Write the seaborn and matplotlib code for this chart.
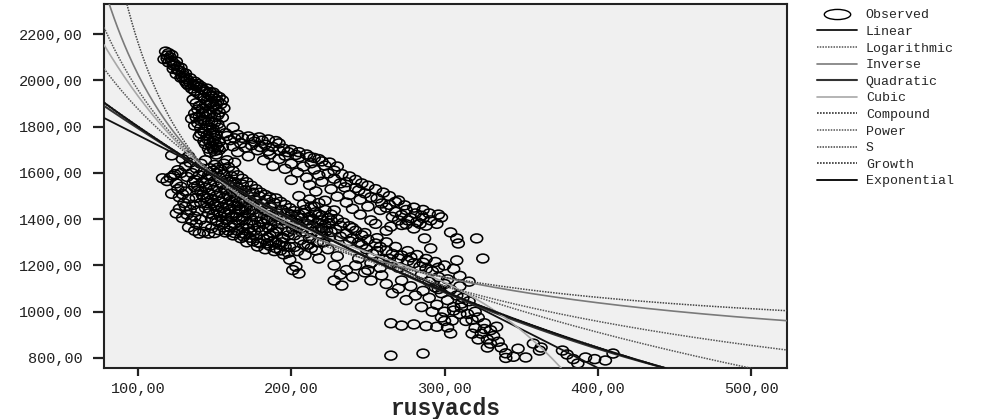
import numpy as np
import pandas as pd
import seaborn as sns
import matplotlib.pyplot as plt
from matplotlib.lines import Line2D
from matplotlib.path import Path
from matplotlib.transforms import Affine2D
from matplotlib.ticker import FuncFormatter

# observed cases (rusyacds, y), grouped by region
steep_branch = [
    (118, 2125), (120, 2118), (119, 2108), (121, 2100), (117, 2092), (122, 2085), (120, 2078),
    (124, 2070), (126, 2060), (123, 2050), (127, 2042), (129, 2035), (125, 2028), (130, 2020),
    (128, 2012), (132, 2005), (131, 1995), (134, 1990), (136, 1985), (133, 1978), (138, 1975),
    (140, 1970), (135, 1965), (142, 1962), (137, 1955), (144, 1952), (139, 1945), (146, 1942),
    (141, 1935), (148, 1932), (143, 1925), (150, 1922), (136, 1918), (145, 1912), (152, 1910),
    (138, 1902), (147, 1900), (154, 1898), (140, 1890), (149, 1888), (142, 1878), (151, 1875),
    (156, 1880), (144, 1866), (153, 1862), (137, 1858), (146, 1852), (140, 1845), (150, 1842),
    (135, 1835), (143, 1830), (148, 1822), (139, 1815), (152, 1812), (145, 1805), (162, 1797),
    (141, 1795), (149, 1790), (143, 1778), (147, 1770), (151, 1765), (140, 1758), (145, 1748),
    (149, 1740), (153, 1735), (144, 1725), (148, 1718), (152, 1710), (146, 1705), (150, 1695),
    (119, 2095), (122, 2110), (125, 2082), (123, 2065), (128, 2055), (126, 2045), (131, 2030),
    (129, 2015), (134, 2010), (132, 1985), (137, 1995), (139, 1985), (141, 1975), (143, 1958),
    (145, 1965), (147, 1950), (149, 1948), (151, 1935), (153, 1928), (155, 1915), (148, 1905),
    (151, 1895), (144, 1895), (139, 1875), (142, 1860), (147, 1860), (152, 1850), (155, 1840),
    (138, 1840), (144, 1842), (141, 1825), (146, 1822), (150, 1818), (137, 1805), (147, 1795),
    (153, 1795), (144, 1790), (141, 1770), (149, 1775), (145, 1762), (150, 1750), (143, 1738),
    (147, 1730), (151, 1722), (155, 1712), (149, 1705), (153, 1700), (147, 1690), (151, 1680),
]
upper_branch = [
    (157, 1772), (165, 1765), (172, 1758), (168, 1752), (179, 1754), (185, 1745), (192, 1728),
    (160, 1742), (176, 1735), (183, 1722), (162, 1715), (170, 1710), (188, 1712), (195, 1705),
    (200, 1700), (178, 1698), (165, 1690), (205, 1690), (210, 1680), (186, 1680), (196, 1675),
    (172, 1672), (205, 1668), (215, 1665), (192, 1660), (182, 1655), (213, 1642), (220, 1650),
    (200, 1640), (208, 1628), (222, 1632), (188, 1630), (196, 1618), (215, 1615), (224, 1598),
    (204, 1602), (218, 1590), (210, 1580), (228, 1575), (200, 1570), (220, 1562), (232, 1555),
    (212, 1548), (235, 1538), (226, 1530), (242, 1535), (216, 1520), (248, 1512), (238, 1505),
    (230, 1498), (252, 1495), (245, 1485), (259, 1468), (222, 1480), (236, 1472), (270, 1481),
    (264, 1462), (250, 1455), (240, 1445), (258, 1440), (228, 1438), (268, 1432), (275, 1440),
    (281, 1425), (272, 1418), (266, 1410), (278, 1405), (285, 1415), (298, 1408), (270, 1395),
    (291, 1395), (282, 1388), (275, 1378), (288, 1372), (265, 1368), (280, 1360), (295, 1380),
    (252, 1395), (245, 1420), (304, 1343), (287, 1317), (308, 1317), (309, 1295), (321, 1317),
    (291, 1274), (308, 1222), (325, 1230), (255, 1380), (262, 1350), (205, 1500), (212, 1485),
    (218, 1470), (208, 1465), (215, 1455),
    (158, 1760), (163, 1750), (175, 1748), (181, 1740), (190, 1738), (167, 1728), (174, 1720),
    (180, 1712), (192, 1698), (198, 1690), (185, 1695), (203, 1678), (212, 1670), (218, 1660),
    (225, 1645), (230, 1628), (228, 1610), (233, 1595), (238, 1585), (242, 1570), (236, 1560),
    (246, 1555), (250, 1545), (255, 1530), (244, 1525), (260, 1515), (264, 1500), (256, 1490),
    (268, 1475), (274, 1460), (262, 1450), (280, 1450), (286, 1440), (290, 1425), (296, 1420),
    (286, 1405), (276, 1395), (272, 1375), (284, 1380),
]
lower_cluster = [
    (116, 1577), (121, 1580), (124, 1595), (122, 1676), (129, 1660), (133, 1672), (125, 1555),
    (128, 1540), (131, 1520), (122, 1510), (127, 1495), (130, 1470), (125, 1425), (127, 1445),
    (132, 1420), (129, 1405), (135, 1395), (138, 1380), (133, 1365), (140, 1338), (137, 1350),
    (143, 1345), (146, 1338), (150, 1340), (135, 1600), (138, 1620), (141, 1640), (144, 1655),
    (137, 1570), (140, 1590), (143, 1605), (147, 1620), (150, 1635), (139, 1545), (142, 1560),
    (145, 1575), (148, 1590), (151, 1600), (154, 1615), (141, 1520), (144, 1535), (147, 1550),
    (150, 1565), (153, 1580), (156, 1595), (143, 1495), (146, 1510), (149, 1525), (152, 1540),
    (155, 1555), (158, 1570), (161, 1585), (145, 1470), (148, 1485), (151, 1500), (154, 1515),
    (157, 1530), (160, 1545), (163, 1560), (147, 1445), (150, 1460), (153, 1475), (156, 1490),
    (159, 1505), (162, 1520), (165, 1535), (168, 1550), (149, 1420), (152, 1435), (155, 1450),
    (158, 1465), (161, 1480), (164, 1495), (167, 1510), (170, 1525), (151, 1395), (154, 1410),
    (157, 1425), (160, 1440), (163, 1455), (166, 1470), (169, 1485), (172, 1500), (175, 1515),
    (155, 1380), (158, 1395), (161, 1410), (164, 1425), (167, 1440), (170, 1455), (173, 1470),
    (176, 1485), (179, 1500), (160, 1365), (163, 1380), (166, 1395), (169, 1410), (172, 1425),
    (175, 1440), (178, 1455), (181, 1470), (184, 1485), (165, 1350), (168, 1365), (171, 1380),
    (174, 1395), (177, 1410), (180, 1425), (183, 1440), (186, 1455), (189, 1470), (170, 1335),
    (173, 1320), (176, 1350), (179, 1365), (182, 1380), (185, 1395), (188, 1410), (191, 1425),
    (194, 1440), (175, 1305), (180, 1295), (185, 1320), (188, 1340), (191, 1360), (194, 1380),
    (197, 1400), (200, 1420), (186, 1285), (190, 1275), (194, 1300), (198, 1330), (201, 1355),
    (204, 1380), (207, 1405), (193, 1265), (198, 1255), (202, 1280), (206, 1310), (210, 1340),
    (214, 1370), (199, 1225), (203, 1195), (201, 1180), (205, 1165), (209, 1245), (213, 1275),
    (217, 1300), (220, 1330),
    (119, 1565), (123, 1588), (126, 1612), (131, 1628), (134, 1645), (128, 1600), (132, 1583),
    (136, 1558), (126, 1530), (129, 1508), (133, 1488), (136, 1462), (139, 1437), (134, 1440),
    (131, 1455), (137, 1412), (141, 1398), (144, 1372), (148, 1361), (153, 1352), (157, 1343),
    (162, 1330), (167, 1318), (171, 1300), (178, 1282), (183, 1270), (189, 1262), (195, 1248),
    (138, 1492), (141, 1470), (144, 1448), (146, 1425), (148, 1402), (152, 1388), (156, 1365),
    (159, 1350), (163, 1340), (168, 1340), (146, 1590), (149, 1610), (152, 1622), (156, 1640),
    (159, 1625), (162, 1608), (165, 1590), (168, 1575), (171, 1560), (174, 1545), (177, 1530),
    (180, 1515), (183, 1505), (186, 1495), (190, 1490), (193, 1475), (196, 1462), (199, 1448),
    (202, 1435), (205, 1420), (208, 1425), (211, 1395), (214, 1400), (217, 1385), (220, 1362),
    (223, 1350), (212, 1318), (208, 1290), (204, 1262), (199, 1280), (195, 1318), (190, 1345),
    (187, 1372), (184, 1402), (180, 1390), (176, 1375), (172, 1360), (168, 1395), (164, 1410),
    (159, 1420), (156, 1432), (152, 1455), (149, 1470), (145, 1490), (142, 1505), (139, 1525),
    (137, 1540), (160, 1498), (165, 1515), (170, 1480), (175, 1460), (180, 1448), (185, 1430),
    (190, 1412), (196, 1395), (203, 1365), (207, 1345), (211, 1290), (216, 1265), (221, 1300),
    (225, 1325), (158, 1655), (163, 1645), (160, 1560), (165, 1460), (170, 1440), (175, 1420),
    (158, 1530), (162, 1475), (166, 1440),
    (178, 1300), (182, 1315), (186, 1330), (190, 1300), (194, 1320), (198, 1345), (202, 1330),
    (206, 1360), (210, 1380), (214, 1345), (218, 1355), (222, 1375), (200, 1395), (204, 1410),
    (197, 1428), (193, 1410), (189, 1390), (185, 1362), (181, 1348), (177, 1330), (173, 1345),
    (169, 1325), (212, 1410), (216, 1430), (209, 1440), (213, 1455), (220, 1415), (224, 1405),
    (196, 1282), (192, 1290), (188, 1305), (184, 1295),
]
lower_branch = [
    (222, 1440), (226, 1420), (230, 1400), (225, 1380), (234, 1385), (238, 1370), (229, 1355),
    (242, 1350), (236, 1338), (246, 1330), (240, 1318), (250, 1312), (244, 1300), (255, 1295),
    (258, 1280), (249, 1270), (262, 1265), (253, 1250), (266, 1250), (272, 1243), (270, 1230),
    (260, 1225), (276, 1220), (280, 1210), (265, 1205), (284, 1195), (270, 1190), (288, 1185),
    (230, 1240), (224, 1270), (218, 1230), (228, 1200), (236, 1180), (232, 1160), (240, 1150),
    (228, 1135), (233, 1113), (248, 1170), (259, 1157), (252, 1135), (262, 1120), (270, 1100),
    (281, 1070), (275, 1050), (266, 1080), (285, 1160), (292, 1175), (296, 1150), (290, 1130),
    (300, 1120), (294, 1105), (304, 1095), (286, 1090), (298, 1080), (308, 1070), (290, 1060),
    (302, 1050), (295, 1030), (306, 1020), (311, 1035), (300, 1000), (310, 990), (298, 975),
    (305, 962), (265, 950), (272, 940), (280, 945), (288, 938), (295, 935), (302, 932),
    (304, 906), (311, 1018), (315, 990), (318, 965), (322, 975), (326, 950), (320, 930),
    (330, 920), (324, 905), (332, 895), (328, 880), (335, 870), (330, 862), (337, 845),
    (328, 845), (340, 820), (348, 840), (345, 805), (265, 810), (286, 819), (252, 1210),
    (244, 1230),
    (226, 1395), (232, 1372), (240, 1362), (248, 1340), (256, 1318), (262, 1300), (268, 1280),
    (276, 1262), (282, 1245), (288, 1228), (294, 1215), (300, 1200), (306, 1185), (296, 1190),
    (286, 1212), (278, 1235), (264, 1228), (256, 1262), (246, 1288), (238, 1305), (232, 1325),
    (226, 1345), (220, 1395), (218, 1420), (296, 1098), (302, 1140), (310, 1110), (312, 1060),
    (316, 1045), (306, 1005), (314, 960), (320, 1000), (326, 925), (334, 935), (318, 905),
    (322, 880), (300, 960), (292, 1000), (285, 1020), (278, 1110), (272, 1135), (258, 1190),
    (250, 1180), (242, 1200), (310, 1155), (316, 1130),
]
tail = [
    (353, 802), (358, 862), (363, 845), (362, 832), (377, 832), (380, 815), (384, 795),
    (387, 776), (392, 802), (398, 795), (405, 789), (410, 819), (340, 800),
]

# curve estimation coefficients, estimated from the drawn fit lines
linear = [2099.0, -3.355]                              # b0 + b1*x
logarithmic = [5084.7, -696.6]                         # b0 + b1*ln(x)
inverse = [709.5, 131665.0]                            # b0 + b1/x
quadratic = [2259.5, -5.034, 0.003712]                 # b0 + b1*x + b2*x^2
cubic = [3372.25, -20.847, 0.074516, -9.992e-5]        # b0 + b1*x + b2*x^2 + b3*x^3
compound = [2317.0, 0.997481]                          # b0 * b1^x
power = [21060.0, -0.5157]                             # b0 * x^b1
s_model = [6.7308, 94.88]                              # exp(b0 + b1/x)
growth = [7.748, -0.002522]                            # exp(b0 + b1*x)
exponential = [2317.0, -0.002522]                      # b0 * exp(b1*x)

df_obs = pd.DataFrame(steep_branch + upper_branch + lower_cluster + lower_branch + tail,
                      columns=['rusyacds', 'y'])

xs = np.linspace(77.8, 523.5, 400)
curves = {
    'Linear': linear[0] + linear[1] * xs,
    'Logarithmic': logarithmic[0] + logarithmic[1] * np.log(xs),
    'Inverse': inverse[0] + inverse[1] / xs,
    'Quadratic': quadratic[0] + quadratic[1] * xs + quadratic[2] * xs ** 2,
    'Cubic': cubic[0] + cubic[1] * xs + cubic[2] * xs ** 2 + cubic[3] * xs ** 3,
    'Compound': compound[0] * compound[1] ** xs,
    'Power': power[0] * xs ** power[1],
    'S': np.exp(s_model[0] + s_model[1] / xs),
    'Growth': np.exp(growth[0] + growth[1] * xs),
    'Exponential': exponential[0] * np.exp(exponential[1] * xs),
}
styles = {
    'Linear': dict(color='#111111', lw=1.3, ls='-'),
    'Logarithmic': dict(color='#555555', lw=1.1, ls=(0, (1, 0.8))),
    'Inverse': dict(color='#7a7a7a', lw=1.2, ls='-'),
    'Quadratic': dict(color='#333333', lw=1.5, ls='-'),
    'Cubic': dict(color='#a8a8a8', lw=1.2, ls='-'),
    'Compound': dict(color='#333333', lw=1.2, ls=(0, (1, 0.8))),
    'Power': dict(color='#555555', lw=1.1, ls=(0, (1, 0.8))),
    'S': dict(color='#444444', lw=1.1, ls=(0, (1, 0.8))),
    'Growth': dict(color='#333333', lw=1.2, ls=(0, (1, 0.8))),
    'Exponential': dict(color='#111111', lw=1.4, ls='-'),
}

sns.set_theme(style='white')
plt.rcParams['font.family'] = ['Liberation Mono', 'DejaVu Sans Mono']

# the original is horizontally stretched, so circles look like ellipses
oval = Path.unit_circle().transformed(Affine2D().scale(1.35, 1.0))
oval_wide = Path.unit_circle().transformed(Affine2D().scale(2.6, 1.0))

fig, ax = plt.subplots(figsize=(10, 4.19), dpi=100)
plt.subplots_adjust(left=0.104, right=0.787, top=0.99, bottom=0.122)
ax.set_facecolor('#f0f0f0')

sns.scatterplot(data=df_obs, x='rusyacds', y='y', ax=ax, marker=oval, s=74,
                facecolor='none', edgecolor='black', linewidth=1.15, zorder=2)
for name, ys in curves.items():
    st = styles[name]
    sns.lineplot(x=xs, y=ys, ax=ax, color=st['color'], linewidth=st['lw'],
                 linestyle=st['ls'], zorder=3)

ax.set_xlim(77.8, 523.5)
ax.set_ylim(757, 2330)
ax.set_xticks([100, 200, 300, 400, 500])
ax.set_yticks([800, 1000, 1200, 1400, 1600, 1800, 2000, 2200])
fmt = FuncFormatter(lambda v, p: f'{v:.2f}'.replace('.', ','))
ax.xaxis.set_major_formatter(fmt)
ax.yaxis.set_major_formatter(fmt)
ax.tick_params(axis='y', length=8, width=1.6, pad=7, labelsize=11, colors='#222222', left=True)
ax.tick_params(axis='x', length=6, width=1.6, pad=4, labelsize=11, colors='#222222', bottom=True)
for sp in ax.spines.values():
    sp.set_color('#222222')
    sp.set_linewidth(1.5)
ax.set_xlabel('rusyacds', fontsize=16.5, fontweight='bold', labelpad=1)
ax.set_ylabel('')

handles = [Line2D([], [], marker=oval_wide, markersize=19, markerfacecolor='none',
                  markeredgecolor='black', markeredgewidth=1.0, ls='none')]
labels = ['Observed']
for name in curves:
    st = styles[name]
    handles.append(Line2D([], [], color=st['color'], lw=st['lw'], ls=st['ls']))
    labels.append(name)
fig.legend(handles, labels, loc='upper left', bbox_to_anchor=(0.817, 0.978), frameon=False,
           fontsize=9.5, handlelength=3.0, handletextpad=0.7, labelspacing=0.33,
           borderpad=0, borderaxespad=0)

plt.savefig('out.png', dpi=100)
plt.close()
